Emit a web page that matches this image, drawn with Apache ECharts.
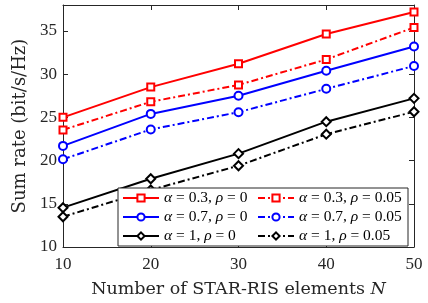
<!DOCTYPE html>
<html><head><meta charset="utf-8">
<script src="https://cdn.jsdelivr.net/npm/echarts@6/dist/echarts.min.js"></script>
<style>html,body{margin:0;padding:0;background:#fff}#c{width:428px;height:303px}</style>
</head><body><div id="c"></div>
<script>
const N = [10, 20, 30, 40, 50];
const a03_r0 = [25.0, 28.5, 31.2, 34.65, 37.2];
const a03_r05 = [23.55, 26.8, 28.75, 31.7, 35.4];
const a07_r0 = [21.7, 25.4, 27.5, 30.4, 33.2];
const a07_r05 = [20.15, 23.6, 25.6, 28.3, 30.95];
const a1_r0 = [14.55, 17.9, 20.8, 24.5, 27.2];
const a1_r05 = [13.5, 16.6, 19.4, 23.05, 25.65];
const yTicks = [10, 15, 20, 25, 30, 35];

const FONT = 'Liberation Serif';
const TFONT = 'DejaVu Serif';
const TXT = '#262626';
const dashDot = [7, 3, 2, 3];
function pts(v){ return N.map((n,i)=>[n, v[i]]); }
function ser(name, data, color, symbol, dashed){
  const size = symbol==='emptyDiamond' ? 9 : (symbol==='emptyRect' ? 7 : 8);
  return {
    name, type:'line', data: pts(data), symbol, symbolSize: size,
    showSymbol:true,
    lineStyle:{color, width:2, type: dashed?dashDot:'solid'},
    itemStyle:{color, borderColor:color, borderWidth:1.6},
    z: 3, animation:false
  };
}
const names = {
  s1:'{i|α} = 0.3, {i|ρ} = 0', s2:'{i|α} = 0.3, {i|ρ} = 0.05',
  s3:'{i|α} = 0.7, {i|ρ} = 0', s4:'{i|α} = 0.7, {i|ρ} = 0.05',
  s5:'{i|α} = 1, {i|ρ} = 0', s6:'{i|α} = 1, {i|ρ} = 0.05'
};
const legendText = {
  color:'#000', fontFamily:FONT, fontSize:15.5,
  rich:{ i:{fontStyle:'italic', fontFamily:FONT, fontSize:15.5, color:'#000'} }
};
const common = {
  orient:'vertical', itemWidth:36, itemHeight:9, itemGap:3, padding:0,
  formatter: n => names[n], textStyle: legendText, selectedMode:false, z:10
};
const chart = echarts.init(document.getElementById('c'), null, {renderer:'canvas'});
const axisLine = {show:true, lineStyle:{color:TXT, width:1}};
chart.setOption({
  animation:false,
  grid:{left:63, right:14, top:5, bottom:52, containLabel:false},
  xAxis:[{
    type:'value', min:10, max:50, interval:10,
    axisLine, axisTick:{inside:true, length:5, lineStyle:{color:TXT}},
    splitLine:{show:false},
    axisLabel:{color:TXT, fontFamily:FONT, fontSize:17, margin:9},
    name:'Number of STAR-RIS elements {i|N}', nameLocation:'middle', nameGap:33,
    nameTextStyle:{color:TXT, fontFamily:TFONT, fontSize:17.5,
      rich:{i:{fontStyle:'italic', fontFamily:TFONT, fontSize:17.5, color:TXT}}}
  },{
    type:'value', min:10, max:50, interval:10, position:'top',
    axisLine, axisTick:{inside:true, length:5, lineStyle:{color:TXT}},
    axisLabel:{show:false}, splitLine:{show:false}
  }],
  yAxis:[{
    type:'value', min:10, max:38, interval:5,
    axisLine, axisTick:{inside:true, length:5, lineStyle:{color:TXT}},
    splitLine:{show:false},
    axisLabel:{color:TXT, fontFamily:FONT, fontSize:17, margin:6, showMaxLabel:false,
      formatter: v => yTicks.includes(v) ? String(v) : ''},
    name:'Sum rate (bit/s/Hz)', nameLocation:'middle', nameGap:30, nameRotate:90,
    nameTextStyle:{color:TXT, fontFamily:TFONT, fontSize:18}
  },{
    type:'value', min:10, max:38, interval:5, position:'right',
    axisLine, axisTick:{inside:true, length:5, lineStyle:{color:TXT}},
    axisLabel:{show:false}, splitLine:{show:false}
  }],
  legend:[
    Object.assign({left:122, top:190, data:['s1','s3','s5']}, common),
    Object.assign({left:257, top:190, data:['s2','s4','s6']}, common)
  ],
  graphic:[{
    type:'rect', shape:{x:118, y:188, width:290, height:58},
    style:{fill:'#fff', stroke:TXT, lineWidth:1}, z:5, silent:true
  }],
  series:[
    ser('s1', a03_r0, '#ff0000', 'emptyRect', false),
    ser('s2', a03_r05, '#ff0000', 'emptyRect', true),
    ser('s3', a07_r0, '#0000ff', 'emptyCircle', false),
    ser('s4', a07_r05, '#0000ff', 'emptyCircle', true),
    ser('s5', a1_r0, '#000000', 'emptyDiamond', false),
    ser('s6', a1_r05, '#000000', 'emptyDiamond', true)
  ]
});
</script></body></html>
